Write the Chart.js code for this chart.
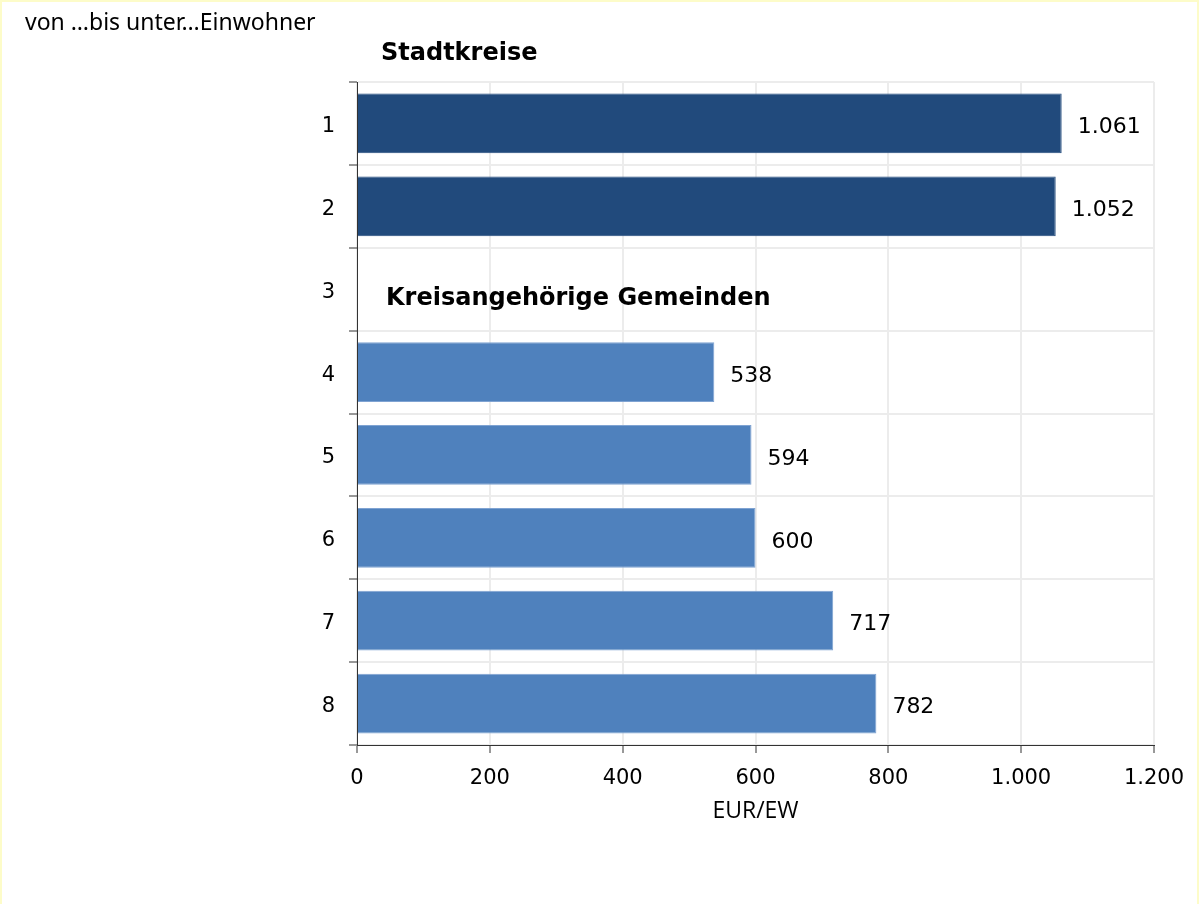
<!DOCTYPE html>
<html lang="de">
<head>
    <meta charset="UTF-8">
    <title>Stadtkreise / Kreisangehörige Gemeinden</title>
    <script src="https://cdn.jsdelivr.net/npm/chart.js"></script>
    <style>
        body {
            margin: 0;
            background: #fff;
        }
        .wrap {
            position: relative;
            width: 1199px;
            height: 904px;
        }
        .wrap canvas {
            position: absolute;
            left: 0;
            top: 0;
        }
        .frame {
            position: absolute;
            left: 0;
            top: 0;
            width: 1199px;
            height: 904px;
            box-sizing: border-box;
            border: 2px solid #fdfcc9;
            border-bottom: none;
            pointer-events: none;
        }
    </style>
</head>
<body>
<div class="wrap">
    <canvas id="chart" width="1199" height="904"></canvas>
    <div class="frame"></div>
</div>

<script>
    // data
    const categories = ["1", "2", "3", "4", "5", "6", "7", "8"];
    const values = [1061, 1052, null, 538, 594, 600, 717, 782];
    const barColors = ["#214a7c", "#214a7c", null, "#4f81bd", "#4f81bd", "#4f81bd", "#4f81bd", "#4f81bd"];
    const xTicks = [0, 200, 400, 600, 800, 1000, 1200];
    const unitTitle = "EUR/EW";
    const sideTitle = "von …bis unter…Einwohner";
    const groupTop = "Stadtkreise";
    const groupBottom = "Kreisangehörige Gemeinden";

    const fmt = v => v.toLocaleString("de-DE");
    const FONT = "'DejaVu Sans', Verdana, sans-serif";

    // value labels, group captions and the top-left text
    const textPlugin = {
        id: "texts",
        afterDatasetsDraw(chart) {
            const ctx = chart.ctx;
            const meta = chart.getDatasetMeta(0);
            const x = chart.scales.x;
            const y = chart.scales.y;
            ctx.save();
            ctx.fillStyle = "#000";
            ctx.font = "22px " + FONT;
            ctx.textBaseline = "middle";
            ctx.textAlign = "left";
            meta.data.forEach((bar, i) => {
                if (values[i] == null) return;
                ctx.fillText(fmt(values[i]), bar.x + 16, bar.y + 4);
            });

            ctx.font = "bold 24px " + FONT;
            ctx.fillText(groupTop, x.left + 24, y.top - 28);
            ctx.fillText(groupBottom, x.left + 29, y.getPixelForValue(2) + 10);

            ctx.font = "23px 'Noto Sans', 'Open Sans', sans-serif";
            ctx.textBaseline = "alphabetic";
            ctx.fillText(sideTitle, 25, 30);
            ctx.restore();
        }
    };

    new Chart(document.getElementById("chart"), {
        type: "bar",
        data: {
            labels: categories,
            datasets: [{
                data: values,
                backgroundColor: barColors,
                borderColor: barColors.map(c => c === "#4f81bd" ? "#7fa3d2" : c),
                borderWidth: 1,
                borderSkipped: "start",
                barPercentage: 0.72,
                categoryPercentage: 1
            }]
        },
        options: {
            indexAxis: "y",
            responsive: false,
            animation: false,
            layout: {
                padding: { top: 82, right: 45, bottom: 75, left: 0 }
            },
            plugins: {
                legend: { display: false },
                tooltip: { enabled: false }
            },
            scales: {
                x: {
                    min: 0,
                    max: 1200,
                    afterBuildTicks: s => { s.ticks = xTicks.map(v => ({ value: v })); },
                    afterFit: s => { s.height = 84; },
                    grid: {
                        color: "#ececec",
                        lineWidth: 2,
                        tickColor: "#333",
                        tickLength: 8,
                        tickWidth: 1
                    },
                    border: { color: "#333", width: 1 },
                    ticks: {
                        color: "#000",
                        padding: 13,
                        font: { family: FONT, size: 21 },
                        callback: v => fmt(v)
                    },
                    title: {
                        display: true,
                        text: unitTitle,
                        color: "#000",
                        padding: { top: 4 },
                        font: { family: "'Open Sans', 'Noto Sans', sans-serif", size: 23 }
                    }
                },
                y: {
                    afterFit: s => { s.width = 357; },
                    grid: {
                        color: "#ececec",
                        lineWidth: 2,
                        tickColor: "#333",
                        tickLength: 8,
                        tickWidth: 1
                    },
                    border: { color: "#333", width: 1 },
                    ticks: {
                        color: "#000",
                        padding: 14,
                        labelOffset: 3,
                        font: { family: FONT, size: 21 }
                    }
                }
            }
        },
        plugins: [textPlugin]
    });
</script>
</body>
</html>
